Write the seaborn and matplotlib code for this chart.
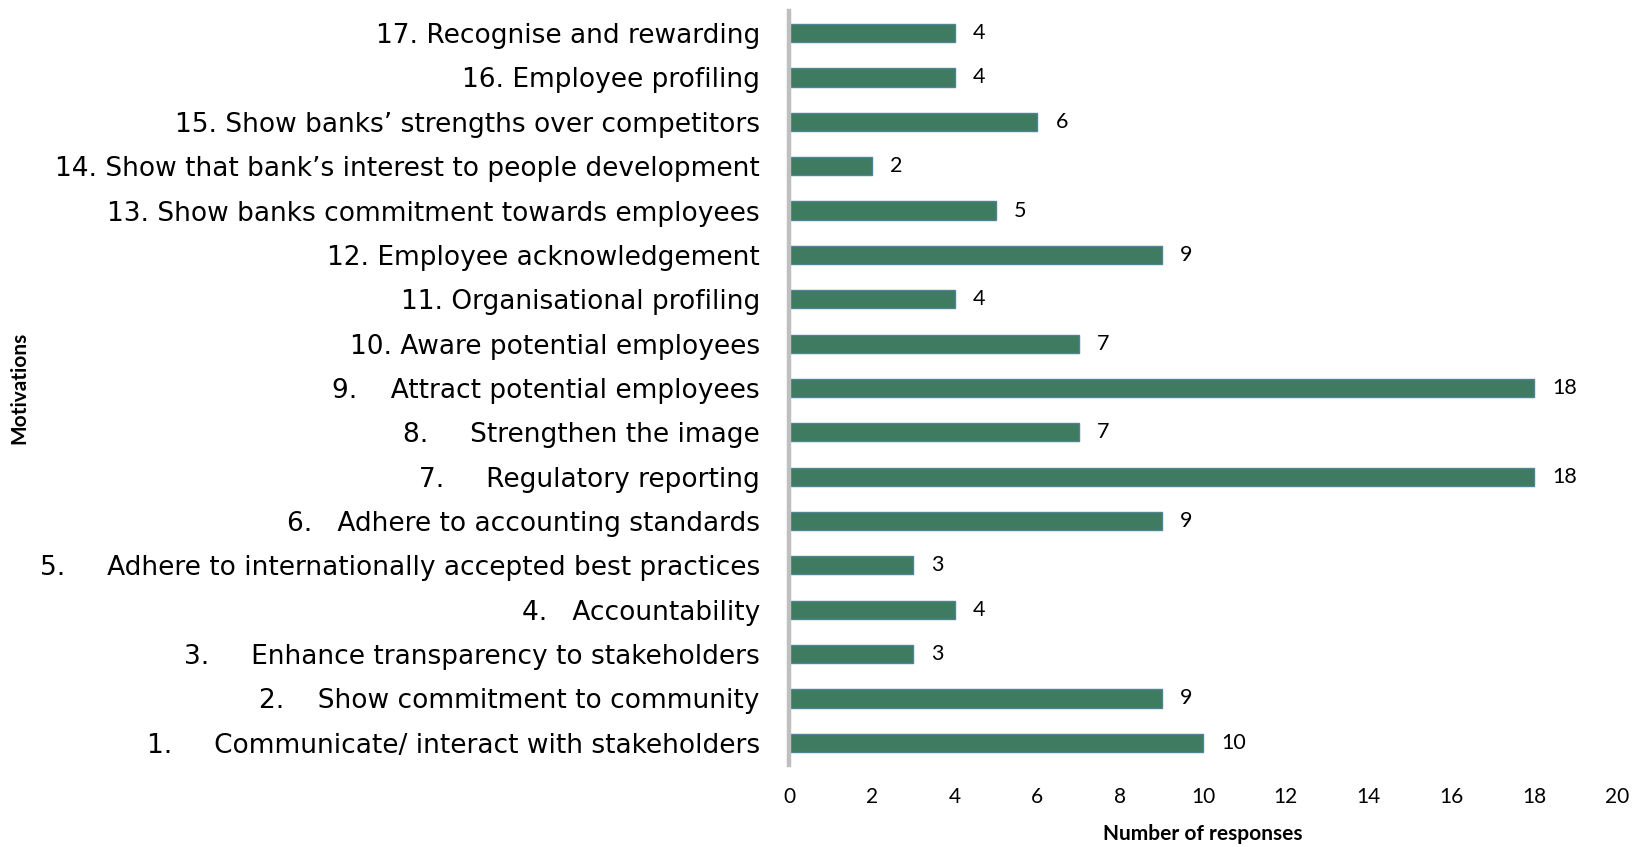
import matplotlib
matplotlib.use("Agg")
import matplotlib.pyplot as plt
import seaborn as sns
import pandas as pd

# ---- data (top to bottom) ----
motivations = [
    "17. Recognise and rewarding",
    "16. Employee profiling",
    "15. Show banks\u2019 strengths over competitors",
    "14. Show that bank\u2019s interest to people development",
    "13. Show banks commitment towards employees",
    "12. Employee acknowledgement",
    "11. Organisational profiling",
    "10. Aware potential employees",
    "9.    Attract potential employees",
    "8.     Strengthen the image",
    "7.     Regulatory reporting",
    "6.   Adhere to accounting standards",
    "5.     Adhere to internationally accepted best practices",
    "4.   Accountability",
    "3.     Enhance transparency to stakeholders",
    "2.    Show commitment to community",
    "1.     Communicate/ interact with stakeholders",
]
responses = [4, 4, 6, 2, 5, 9, 4, 7, 18, 7, 18, 9, 3, 4, 3, 9, 10]
x_ticks = [0, 2, 4, 6, 8, 10, 12, 14, 16, 18, 20]

df = pd.DataFrame({"Motivation": motivations, "Responses": responses})

sns.set_theme(style="white")
fig = plt.figure(figsize=(16.45, 8.47), dpi=100)
ax = fig.add_axes([0.4796, 0.0968, 0.5033, 0.8903])

sns.barplot(data=df, y="Motivation", x="Responses", orient="h",
            order=motivations, color="#3e7b61", width=0.41,
            edgecolor="#4f8496", linewidth=1.0, saturation=1, ax=ax)

ax.set_xlim(0, 20)
ax.set_ylim(16.5, -0.5)
ax.set_xticks(x_ticks)
ax.set_xticklabels([str(t) for t in x_ticks], fontfamily="Lato", fontsize=15, color="#000000")
ax.tick_params(axis="x", length=0, pad=16)
ax.tick_params(axis="y", length=0, pad=21)
for lab in ax.get_yticklabels():
    lab.set_fontfamily("DejaVu Sans")
    lab.set_fontsize(19)
    lab.set_color("#000000")

for c in ax.containers:
    ax.bar_label(c, labels=[str(v) for v in responses], padding=13,
                 fontfamily="Lato", fontsize=15.5, color="#000000")

for s in ["top", "right", "bottom"]:
    ax.spines[s].set_visible(False)
ax.spines["left"].set_color("#bfbfbf")
ax.spines["left"].set_linewidth(3.2)

ax.set_xlabel("Number of responses", fontfamily="Lato", fontweight="bold", fontsize=15, color="#000000")
ax.xaxis.set_label_coords(0.5, -0.078)
ax.set_ylabel("Motivations", fontfamily="Lato", fontweight="bold", fontsize=15, color="#000000")
ax.yaxis.set_label_coords(-0.918, 0.5)
ax.grid(False)

fig.savefig("out.png", dpi=100, facecolor="white")
